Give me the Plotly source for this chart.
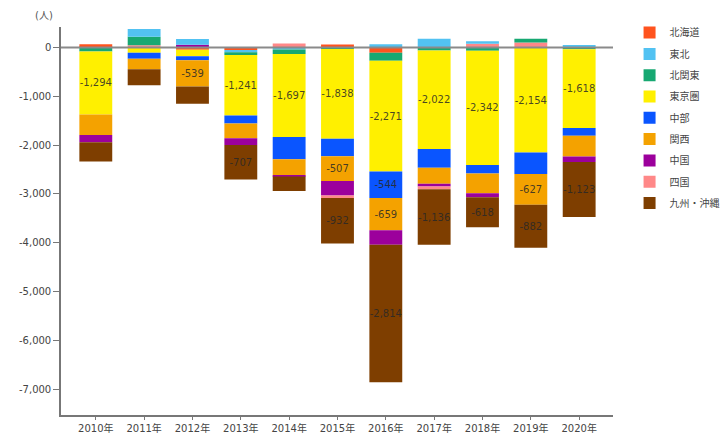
import plotly.graph_objects as go

years = ["2010年", "2011年", "2012年", "2013年", "2014年", "2015年",
         "2016年", "2017年", "2018年", "2019年", "2020年"]

regions = ["北海道", "東北", "北関東", "東京圏", "中部", "関西", "中国", "四国", "九州・沖縄"]
colors = ["#ff531e", "#52c2f2", "#17a872", "#fff000", "#0a55ff",
          "#f4a200", "#9c009c", "#ff8888", "#7e3e00"]

hokkaido = [35, 0, -45, -50, 0, 60, -110, 0, 0, 0, 0]
tohoku = [0, 160, 120, -48, -40, 0, 65, 180, 55, 0, 50]
kitakanto = [-80, 175, 0, -55, -95, -30, -160, -60, -65, 80, -34]
tokyoken = [-1294, -110, -135, -1241, -1697, -1838, -2271, -2022, -2342, -2154, -1618]
chubu = [0, -120, -80, -165, -457, -360, -544, -380, -177, -440, -157]
kansai = [-417, -218, -539, -300, -336, -507, -659, -330, -400, -627, -423]
chugoku = [-150, 0, 55, -137, -20, -300, -299, -55, -82, 0, -116]
shikoku = [30, 45, 0, 0, 80, -48, 0, -60, 75, 100, 0]
kyushu = [-396, -328, -355, -707, -293, -932, -2814, -1136, -618, -882, -1123]

y_tick_values = [0, -1000, -2000, -3000, -4000, -5000, -6000, -7000]
y_tick_labels = [f"{v:,}" for v in y_tick_values]

series = [hokkaido, tohoku, kitakanto, tokyoken, chubu, kansai, chugoku, shikoku, kyushu]

LABEL_MIN = 500
font_family = "DejaVu Sans, Noto Sans CJK JP, sans-serif"

fig = go.Figure()

# negative parts: stacked downward, 北海道 nearest zero
for name, col, vals in zip(regions, colors, series):
    neg = [v if v < 0 else None for v in vals]
    txt = [f"{v:,}" if (v is not None and abs(v) >= LABEL_MIN) else "" for v in neg]
    fig.add_trace(go.Bar(
        x=years, y=neg, name=name, marker=dict(color=col, line=dict(width=0)),
        legendgroup=name, showlegend=True,
        text=txt, textposition="inside", insidetextanchor="middle",
        textangle=0, constraintext="none",
        textfont=dict(size=10, color="rgba(40,40,40,0.85)", family=font_family),
        hoverinfo="x+y+name",
    ))

# positive parts: stacked upward, 九州・沖縄 nearest zero (column reads top-to-bottom in order)
for name, col, vals in reversed(list(zip(regions, colors, series))):
    pos = [v if v > 0 else None for v in vals]
    fig.add_trace(go.Bar(
        x=years, y=pos, name=name, marker=dict(color=col, line=dict(width=0)),
        legendgroup=name, showlegend=False, hoverinfo="x+y+name",
    ))

fig.update_layout(
    barmode="relative",
    bargap=0.32,
    width=727, height=435,
    margin=dict(l=61, r=114, t=27, b=20, autoexpand=False),
    paper_bgcolor="white", plot_bgcolor="white",
    font=dict(family=font_family, size=10, color="#444"),
    legend=dict(
        x=1.03, y=1.023, xanchor="left", yanchor="top",
        traceorder="grouped", font=dict(size=10, color="#444"),
        itemwidth=30, tracegroupgap=2.3,
    ),
    annotations=[dict(
        text="(人)", xref="paper", yref="paper", x=-0.03, y=1.03,
        xanchor="center", yanchor="middle", showarrow=False,
        font=dict(size=10, color="#555"),
    )],
    shapes=[dict(
        type="line", xref="paper", yref="y", x0=0, x1=1, y0=0, y1=0,
        line=dict(color="#8a8a8a", width=2), layer="above",
    )],
)

fig.update_xaxes(
    showline=True, linecolor="#777", linewidth=1.5,
    ticks="outside", ticklen=3, tickcolor="#777",
    showgrid=False, range=[-0.72, 10.7], automargin=False,
    tickfont=dict(size=10, color="#444"),
)
fig.update_yaxes(
    showline=True, linecolor="#777", linewidth=1.5,
    ticks="outside", ticklen=6, tickcolor="#777",
    showgrid=False, zeroline=False, automargin=False,
    range=[-7530, 420], tickmode="array",
    tickvals=y_tick_values, ticktext=y_tick_labels,
    tickfont=dict(size=10, color="#444"),
)

fig.write_html("out.html")
